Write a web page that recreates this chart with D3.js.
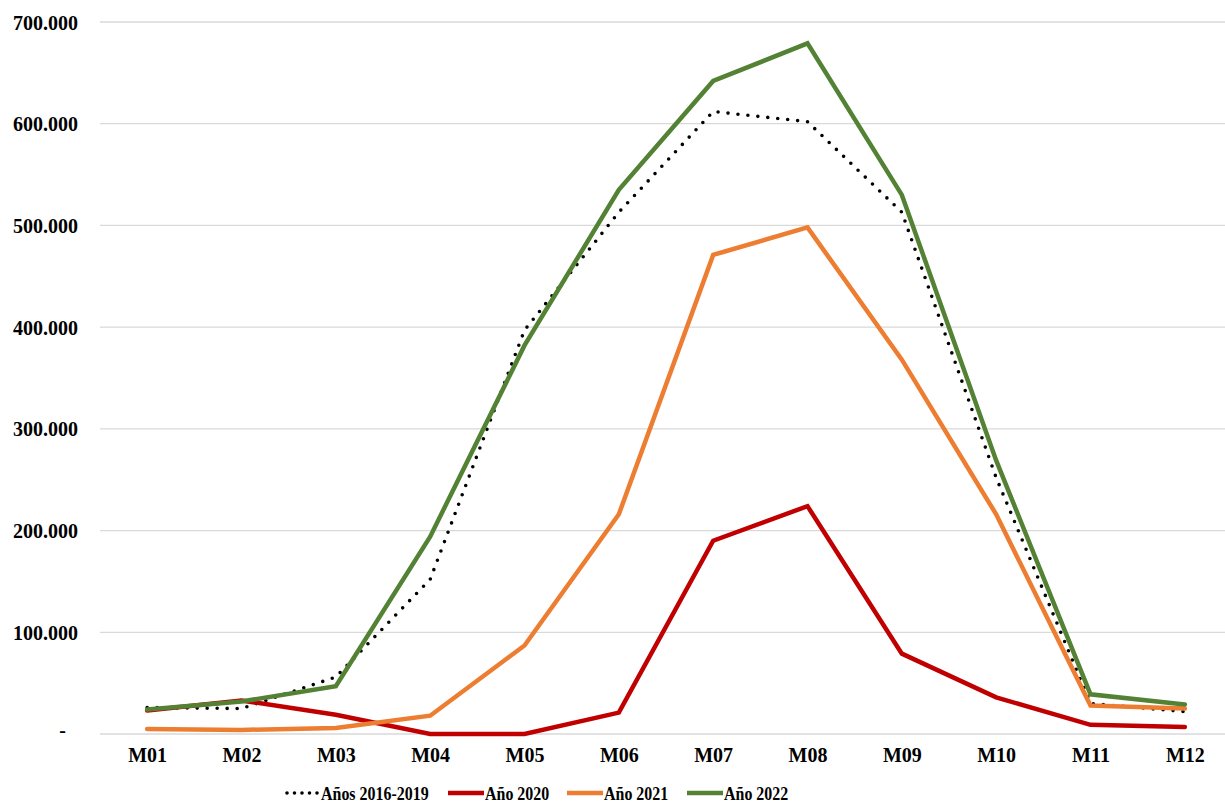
<!DOCTYPE html>
<html lang="es">
<head>
<meta charset="UTF-8">
<title>Meses</title>
<style>
  body { margin: 0; background: #fff; }
  svg text { font-family: "Liberation Serif", "Times New Roman", serif; font-weight: bold; fill: #000; }
  .grid line { stroke: #d9d9d9; stroke-width: 1.3; }
  .series { fill: none; stroke-linejoin: miter; }
</style>
</head>
<body>
<div id="chart"></div>
<script src="https://d3js.org/d3.v7.min.js"></script>
<script>
  // months on the x axis
  const months = ["M01","M02","M03","M04","M05","M06","M07","M08","M09","M10","M11","M12"];
  const yTicks = [0, 100000, 200000, 300000, 400000, 500000, 600000, 700000];

  const anios2016_2019 = [26000, 25000, 56000, 152000, 397000, 513000, 612000, 602000, 513000, 252000, 30000, 22000];
  const anio2020 = [23000, 33000, 19000, 0, 0, 21000, 190000, 224000, 79000, 36000, 9000, 7000];
  const anio2021 = [5000, 4000, 6000, 18000, 87000, 216000, 471000, 498000, 368000, 216000, 28000, 25000];
  const anio2022 = [24000, 32000, 47000, 194000, 382000, 535000, 642000, 679000, 530000, 269000, 39000, 29000];

  const seriesNames = ["Años 2016-2019", "Año 2020", "Año 2021", "Año 2022"];
  const seriesColors = ["#000000", "#c00000", "#ed7d31", "#548235"];

  const width = 1225, height = 804;
  const margin = { top: 22, right: -7, bottom: 70, left: 100 };

  const svg = d3.select('#chart').append('svg')
    .attr('width', width)
    .attr('height', height);

  const x = d3.scalePoint()
    .domain(months)
    .range([margin.left, width - margin.right])
    .padding(0.5);

  const y = d3.scaleLinear()
    .domain([0, 700000])
    .range([height - margin.bottom, margin.top]);

  const fmt = v => v === 0 ? '-' : d3.format(',')(v).replace(/,/g, '.');

  // gridlines
  svg.append('g').attr('class', 'grid')
    .selectAll('line')
    .data(yTicks)
    .join('line')
    .attr('x1', margin.left)
    .attr('x2', width)
    .attr('y1', d => y(d))
    .attr('y2', d => y(d));

  // y axis labels
  svg.append('g')
    .attr('transform', `translate(${margin.left}, 0)`)
    .call(d3.axisLeft(y).tickValues(yTicks).tickFormat(fmt).tickSize(0).tickPadding(22))
    .call(g => g.select('.domain').remove())
    .call(g => g.selectAll('text').style('font-size', '20px').attr('font-family', null)
      .attr('dy', '0.35em'))
    .call(g => g.selectAll('text').filter(d => d === 0).attr('x', -34).attr('dy', '0.1em'));

  // x axis labels
  svg.append('g')
    .attr('transform', `translate(0, ${y(0)})`)
    .call(d3.axisBottom(x).tickSize(0).tickPadding(14))
    .call(g => g.select('.domain').remove())
    .call(g => g.selectAll('text').style('font-size', '20px').attr('font-family', null));

  const line = d3.line()
    .x((d, i) => x(months[i]))
    .y(d => y(d));

  const allSeries = [anios2016_2019, anio2020, anio2021, anio2022];

  // dotted first, green on top
  allSeries.forEach((vals, k) => {
    const p = svg.append('path')
      .attr('class', 'series')
      .attr('d', line(vals))
      .attr('stroke', seriesColors[k]);
    if (k === 0) {
      p.attr('stroke-width', 3.6)
        .attr('stroke-dasharray', '0 10')
        .attr('stroke-linecap', 'round');
    } else {
      p.attr('stroke-width', 4.5)
        .attr('stroke-linecap', 'round');
    }
  });

  // legend (text a bit condensed, like the original)
  const legendY = 793;
  const legendX = [284, 448, 567, 687];
  const legend = svg.append('g');
  seriesNames.forEach((name, k) => {
    const g = legend.append('g').attr('transform', `translate(${legendX[k]}, ${legendY})`);
    const sw = g.append('line')
      .attr('x1', 0).attr('x2', 36)
      .attr('y1', 0).attr('y2', 0)
      .attr('stroke', seriesColors[k]);
    if (k === 0) {
      sw.attr('stroke-width', 3.6).attr('stroke-dasharray', '0 7.5').attr('stroke-linecap', 'round')
        .attr('x1', 3).attr('x2', 36);
    } else {
      sw.attr('stroke-width', 4.5);
    }
    g.append('text')
      .attr('transform', 'translate(37, 0) scale(0.84, 1)')
      .attr('dy', '0.35em')
      .style('font-size', '19px')
      .text(name);
  });
</script>
</body>
</html>
